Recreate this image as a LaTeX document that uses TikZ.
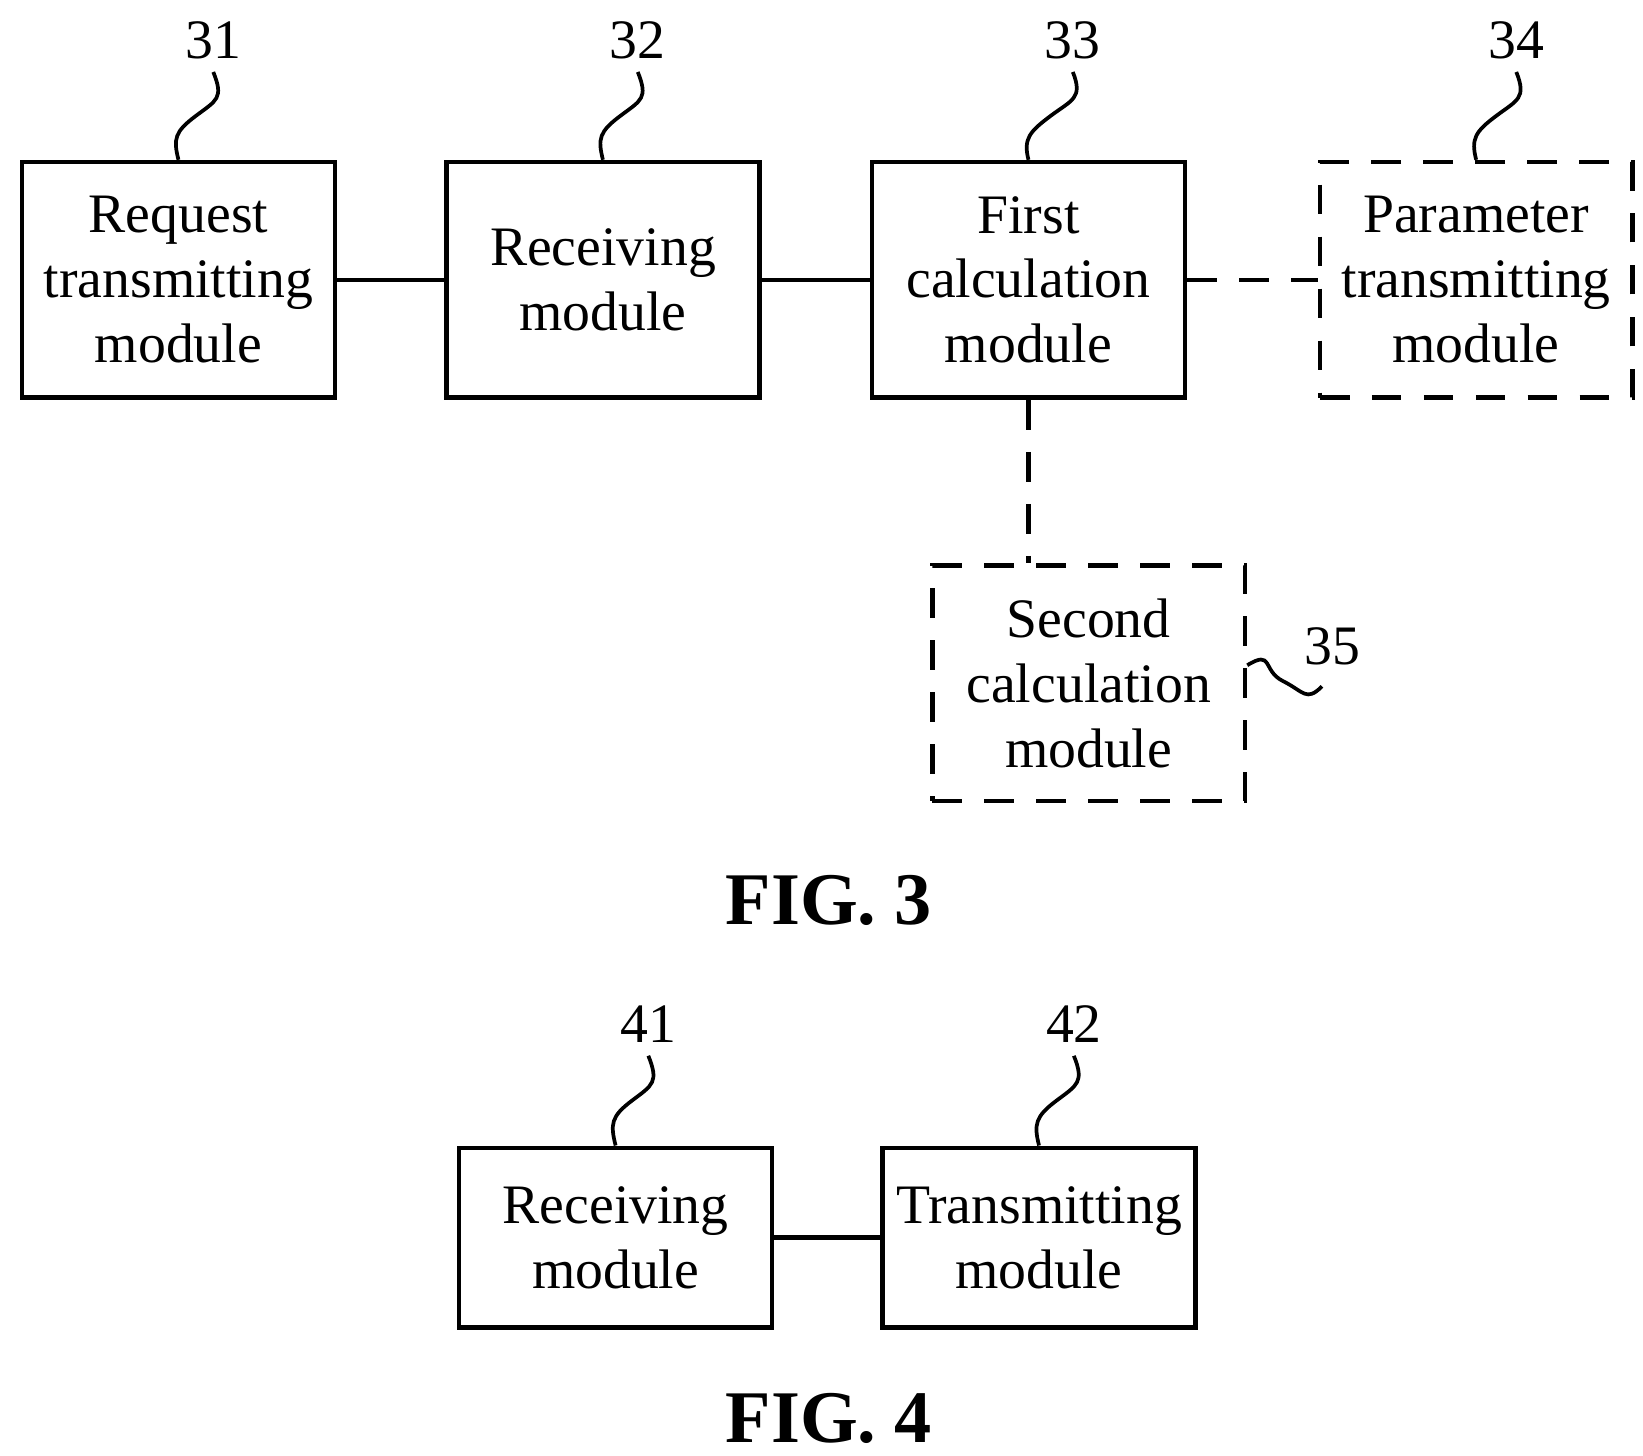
\documentclass[tikz,border=0pt]{standalone}
\usepackage{fontspec}
\setmainfont{Liberation Serif}
\usetikzlibrary{positioning,calc}
\begin{document}
\begin{tikzpicture}[x=0.01cm,y=-0.01cm,font=\fontsize{15}{17.5}\selectfont]
	\tikzset{box/.style={draw,line width=1.2pt,minimum width=2.96cm,minimum height=2.23cm,align=center,inner sep=0pt}}
	\tikzset{optbox/.style={box,dashed,dash pattern=on 8pt off 6pt}}
	\tikzset{lead/.style={line width=1pt}}
	\useasboundingbox (0,0) rectangle (1556,1378);

	% FIG. 3
	\node[box] (req) at (169,265) {Request\\transmitting\\module};
	\node[box] (rcv) at (571,265) {Receiving\\module};
	\node[box] (calc1) at (974,265) {First\\calculation\\module};
	\node[optbox] (par) at (1398,265) {Parameter\\transmitting\\module};
	\node[optbox] (calc2) at (1031,647) {Second\\calculation\\module};
	\draw[line width=1.2pt] (req) -- (rcv);
	\draw[line width=1.2pt] (rcv) -- (calc1);
	\draw[line width=1.2pt,dash pattern=on 8pt off 6pt] (calc1) -- (par);
	\draw[line width=1.2pt,dash pattern=on 8pt off 6pt] (calc1) -- (calc1 |- calc2.north);

	\node (n31) at (202,38) {31};
	\node (n32) at (604,38) {32};
	\node (n33) at (1016,38) {33};
	\node (n34) at (1436,38) {34};
	\node (n35) at (1262,612) {35};
	\foreach \n/\b in {n31/req,n32/rcv,n33/calc1,n34/par}
		\draw[lead] (\n.south) .. controls +(10,25) and +(20,-15) .. ($(\n.south)!0.5!(\b.north)$)
			.. controls +(-20,15) and +(-5,-20) .. (\b.north);
	\draw[lead] (calc2.east |- 0,630) .. controls +(25,-15) and +(-20,-10) .. (1215,645)
		.. controls +(20,10) and +(-15,15) .. (1252,650);
	\node[font=\fontsize{20}{22}\selectfont\bfseries] (fig3) at (785,853) {FIG. 3};

	% FIG. 4
	\node[box,minimum height=1.7cm] (rcv4) at (583,1172) {Receiving\\module};
	\node[box,minimum height=1.7cm] (tx4) at (984,1172) {Transmitting\\module};
	\draw[line width=1.2pt] (rcv4) -- (tx4);
	\node (n41) at (614,970) {41};
	\node (n42) at (1017,970) {42};
	\foreach \n/\b in {n41/rcv4,n42/tx4}
		\draw[lead] (\n.south) .. controls +(10,25) and +(20,-15) .. ($(\n.south)!0.5!(\b.north)$)
			.. controls +(-20,15) and +(-5,-20) .. (\b.north);
	\node[font=\fontsize{20}{22}\selectfont\bfseries] (fig4) at (785,1343) {FIG. 4};
\end{tikzpicture}
\end{document}
